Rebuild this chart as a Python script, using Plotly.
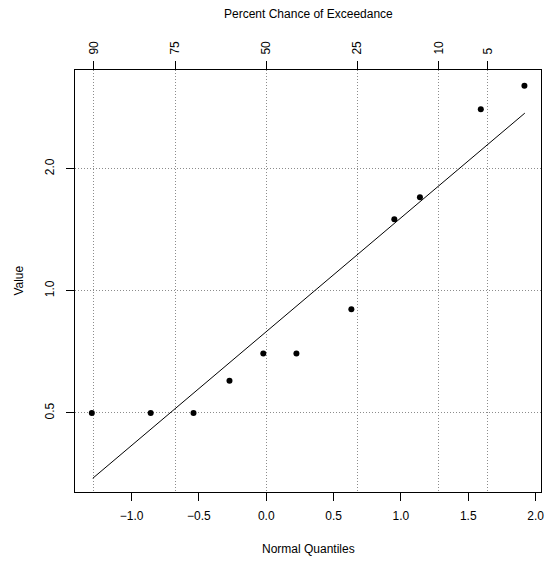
import plotly.graph_objects as go
from statistics import NormalDist

# Data
quantiles = [-1.295, -0.858, -0.540, -0.273, -0.022, 0.224, 0.632, 0.951, 1.141, 1.593, 1.917]
values = [0.5, 0.5, 0.5, 0.6, 0.7, 0.7, 0.9, 1.5, 1.7, 2.8, 3.2]
fit_x = [-1.288, 1.920]
fit_y = [0.345, 2.74]
exceed_pct = [90, 75, 50, 25, 10, 5]
x_ticks = [-1.0, -0.5, 0.0, 0.5, 1.0, 1.5, 2.0]
x_ticktext = ["\u22121.0", "\u22120.5", "0.0", "0.5", "1.0", "1.5", "2.0"]
y_ticks = [0.5, 1.0, 2.0]
y_ticktext = ["0.5", "1.0", "2.0"]

top_pos = [NormalDist().inv_cdf(1 - p / 100.0) for p in exceed_pct]
top_text = [str(p) for p in exceed_pct]

FONT = "Liberation Sans, Arial, Helvetica, sans-serif"
xr = [-1.420, 2.040]
GRID_DASH = "1px,2px"
GRID_COLOR = "#8c8c8c"

fig = go.Figure()
fig.add_trace(go.Scatter(x=fit_x, y=fit_y, mode="lines",
                         line=dict(color="black", width=1), showlegend=False, hoverinfo="skip"))
fig.add_trace(go.Scatter(x=quantiles, y=values, mode="markers",
                         marker=dict(color="black", size=6), showlegend=False))
fig.add_trace(go.Scatter(x=[top_pos[0]], y=[values[0]], xaxis="x2", mode="markers",
                         marker=dict(opacity=0), showlegend=False, hoverinfo="skip"))

fig.update_layout(
    width=550, height=561,
    margin=dict(l=75, r=6, t=70, b=69, pad=0),
    paper_bgcolor="white", plot_bgcolor="white",
    font=dict(family=FONT, size=12, color="black"),
    xaxis=dict(range=xr, tickvals=x_ticks, ticktext=x_ticktext, showgrid=False, zeroline=False,
               showline=True, linecolor="black", linewidth=1, mirror=True,
               ticks="outside", ticklen=8, tickcolor="black", tickwidth=1,
               tickfont=dict(size=12), ticklabelstandoff=5),
    xaxis2=dict(range=xr, overlaying="x", side="top", tickvals=top_pos, ticktext=top_text,
                showgrid=True, griddash=GRID_DASH, gridcolor=GRID_COLOR, gridwidth=1, zeroline=False,
                showline=False, ticks="outside", ticklen=8, tickcolor="black", tickwidth=1,
                tickangle=-90, tickfont=dict(size=12), ticklabelstandoff=4),
    yaxis=dict(type="log", range=[-0.496, 0.544], tickvals=y_ticks, ticktext=y_ticktext,
               showgrid=True, griddash=GRID_DASH, gridcolor=GRID_COLOR, gridwidth=1, zeroline=False,
               showline=True, linecolor="black", linewidth=1, mirror=True,
               ticks="outside", ticklen=8, tickcolor="black", tickwidth=1,
               tickangle=-90, tickfont=dict(size=12), ticklabelstandoff=7),
    annotations=[
        dict(text="Normal Quantiles", xref="paper", yref="paper", x=0.5, y=-0.135,
             showarrow=False, font=dict(size=12), xanchor="center", yanchor="middle"),
        dict(text="Percent Chance of Exceedance", xref="paper", yref="paper", x=0.5, y=1.132,
             showarrow=False, font=dict(size=12), xanchor="center", yanchor="middle"),
        dict(text="Value", xref="paper", yref="paper", x=-0.121, y=0.5, textangle=-90,
             showarrow=False, font=dict(size=12), xanchor="center", yanchor="middle"),
    ],
)

fig.write_html("out.html")
